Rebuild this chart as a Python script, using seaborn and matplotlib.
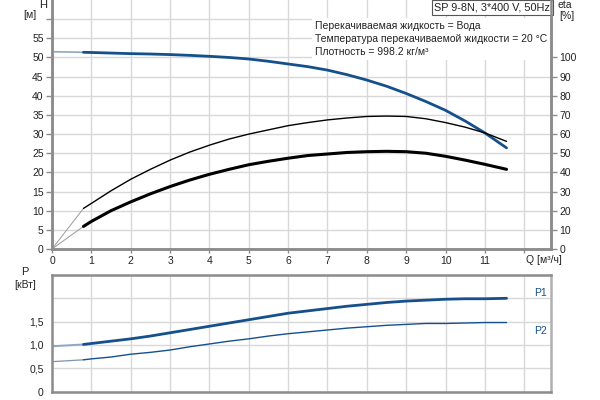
import numpy as np
import matplotlib
matplotlib.use("Agg")
import matplotlib.pyplot as plt
import seaborn as sns

# ----------------------------
# Data
# first point (Q=0) is the faint extension drawn before the curve starts
# ----------------------------
q = [0, 0.8, 1, 1.5, 2, 2.5, 3, 3.5, 4, 4.5, 5, 5.5, 6, 6.5, 7, 7.5,
     8, 8.5, 9, 9.5, 10, 10.5, 11, 11.55]
head = [51.5, 51.35, 51.3, 51.15, 51.0, 50.9, 50.75, 50.55, 50.3, 50.0, 49.6, 49.0,
        48.3, 47.6, 46.7, 45.5, 44.1, 42.5, 40.6, 38.5, 36.2, 33.4, 30.3, 26.4]
# eta in % (right axis)
eta_pump = [0, 21.2, 23.8, 30.4, 36.4, 41.6, 46.4, 50.6, 54.2, 57.4, 60.0, 62.2,
            64.4, 66.0, 67.4, 68.4, 69.2, 69.4, 69.2, 68.0, 66.0, 63.6, 60.6, 56.2]
eta_total = [0, 11.8, 14.4, 20.0, 24.6, 28.8, 32.6, 36.0, 39.0, 41.6, 44.0, 45.8,
             47.4, 48.8, 49.6, 50.4, 50.8, 51.0, 50.8, 50.0, 48.4, 46.4, 44.2, 41.6]

q_p = [0, 0.8, 1, 1.5, 2, 2.5, 3, 3.5, 4, 4.5, 5, 5.5, 6, 6.5, 7, 7.5,
       8, 8.5, 9, 9.5, 10, 10.5, 11, 11.55]
p1 = [0.97, 1.01, 1.03, 1.08, 1.13, 1.19, 1.26, 1.33, 1.40, 1.47, 1.54, 1.61,
      1.68, 1.73, 1.78, 1.83, 1.87, 1.91, 1.94, 1.96, 1.98, 1.99, 1.99, 2.00]
p2 = [0.64, 0.68, 0.70, 0.74, 0.80, 0.84, 0.89, 0.96, 1.02, 1.08, 1.13, 1.19,
      1.24, 1.28, 1.32, 1.36, 1.39, 1.42, 1.44, 1.46, 1.46, 1.47, 1.48, 1.48]

x_ticks = list(range(0, 12))
h_ticks = list(range(0, 60, 5))
eta_ticks = list(range(0, 110, 10))
p_ticks = [0, 0.5, 1.0, 1.5]
p_labels = ["0", "0,5", "1,0", "1,5"]

info_lines = [
    "Перекачиваемая жидкость = Вода",
    "Температура перекачиваемой жидкости = 20 °C",
    "Плотность = 998.2 кг/м³",
]
title_box = "SP 9-8N, 3*400 V, 50Hz"

# ----------------------------
# Style
# ----------------------------
sns.set_theme(style="white")
plt.rcParams["font.family"] = ["Liberation Sans", "DejaVu Sans"]

blue = "#15508c"
light_blue = "#8fa7c4"
grid_c = "#d8d8d8"
spine_c = "#8c8c8c"
txt_c = "#222222"
fs = 7.5

fig = plt.figure(figsize=(6, 4), dpi=100)
ax = fig.add_axes([52 / 600, 1 - 249 / 400, 499 / 600, 249 / 400])
axp = fig.add_axes([52 / 600, 1 - 391.5 / 400, 499 / 600, 116.5 / 400])
ax_r = ax.twinx()

xmax = 12.68

# ----------------------------
# Top chart: H and eta
# ----------------------------
ax.plot(q[:2], head[:2], color=light_blue, lw=1.2)
ax_r.plot(q[:2], eta_pump[:2], color="#9a9a9a", lw=0.7)
ax_r.plot(q[:2], eta_total[:2], color="#9a9a9a", lw=0.7)

sns.lineplot(x=q[1:], y=head[1:], ax=ax, color=blue, lw=2.0)
sns.lineplot(x=q[1:], y=eta_pump[1:], ax=ax_r, color="black", lw=1.0)
sns.lineplot(x=q[1:], y=eta_total[1:], ax=ax_r, color="black", lw=2.2)

ax.set_xlim(0, xmax)
ax.set_ylim(0, 65)
ax_r.set_ylim(0, 130)
ax.set_xticks(list(range(0, 13)))
ax.set_xticklabels([str(v) for v in x_ticks] + [""])
ax.set_yticks(h_ticks + [60])
ax.set_yticklabels([str(v) for v in h_ticks] + [""])
ax_r.set_yticks(eta_ticks)
ax_r.set_yticklabels([str(v) for v in eta_ticks])
ax.grid(True, color=grid_c, lw=1)
ax.set_axisbelow(True)
ax.set_xlabel("")
ax.set_ylabel("")
ax_r.set_ylabel("")

for a in (ax, ax_r):
    for s in a.spines.values():
        s.set_color(spine_c)
        s.set_linewidth(1.8)
    a.tick_params(labelsize=fs, colors=spine_c, labelcolor=txt_c, length=4, width=1, pad=2)
ax.spines["top"].set_visible(False)
ax_r.spines["top"].set_visible(False)
ax.tick_params(axis="x", bottom=True, length=3)

ax.text(-0.23, 63.6, "H", fontsize=fs + 0.5, color=txt_c, ha="center", va="center")
ax.text(-0.56, 61.0, "[м]", fontsize=fs, color=txt_c, ha="center", va="center")
ax.text(13.03, 63.6, "eta", fontsize=fs, color=txt_c, ha="center", va="center")
ax.text(13.08, 60.8, "[%]", fontsize=fs, color=txt_c, ha="center", va="center")
ax.text(12.5, -2.8, "Q [м³/ч]", fontsize=fs, color=txt_c, ha="center", va="center")

ax.text(12.66, 64.3, title_box, fontsize=fs + 0.3, color=txt_c, ha="right", va="top",
        bbox=dict(boxstyle="square,pad=0.25", fc="white", ec="#555555", lw=0.8), zorder=5)
ax.text(6.68, 59.5, "\n".join(info_lines), fontsize=fs, color=txt_c, ha="left", va="top",
        linespacing=1.35,
        bbox=dict(boxstyle="square,pad=0.3", fc="white", ec="none"), zorder=4)

# ----------------------------
# Bottom chart: power
# ----------------------------
axp.plot(q_p[:2], p1[:2], color=light_blue, lw=1.4)
axp.plot(q_p[:2], p2[:2], color="#7f93ad", lw=0.9)
sns.lineplot(x=q_p[1:], y=p1[1:], ax=axp, color=blue, lw=2.0)
sns.lineplot(x=q_p[1:], y=p2[1:], ax=axp, color=blue, lw=1.0)
axp.set_xlim(0, xmax)
axp.set_ylim(0, 2.5)
axp.set_xticks(list(range(0, 13)))
axp.set_xticklabels([])
axp.set_yticks(p_ticks + [2.0, 2.5])
axp.set_yticklabels(p_labels + ["", ""])
axp.grid(True, color=grid_c, lw=1)
axp.set_axisbelow(True)
axp.set_xlabel("")
axp.set_ylabel("")
for s in axp.spines.values():
    s.set_color(spine_c)
    s.set_linewidth(1.8)
axp.spines["right"].set_color("#b0b0b0")
axp.tick_params(labelsize=fs, colors=spine_c, labelcolor=txt_c, length=4, width=1, pad=2)
axp.tick_params(axis="x", length=0)

axp.text(12.42, 2.12, "P1", fontsize=fs, color=blue, ha="center", va="center")
axp.text(12.42, 1.30, "P2", fontsize=fs, color=blue, ha="center", va="center")
t1 = axp.text(-0.68, 2.56, "P", fontsize=fs + 0.5, color=txt_c, ha="center", va="center")
t2 = axp.text(-0.68, 2.28, "[кВт]", fontsize=fs, color=txt_c, ha="center", va="center")
for t in (t1, t2):
    t.set_clip_on(False)

fig.savefig("out.png", dpi=100)
